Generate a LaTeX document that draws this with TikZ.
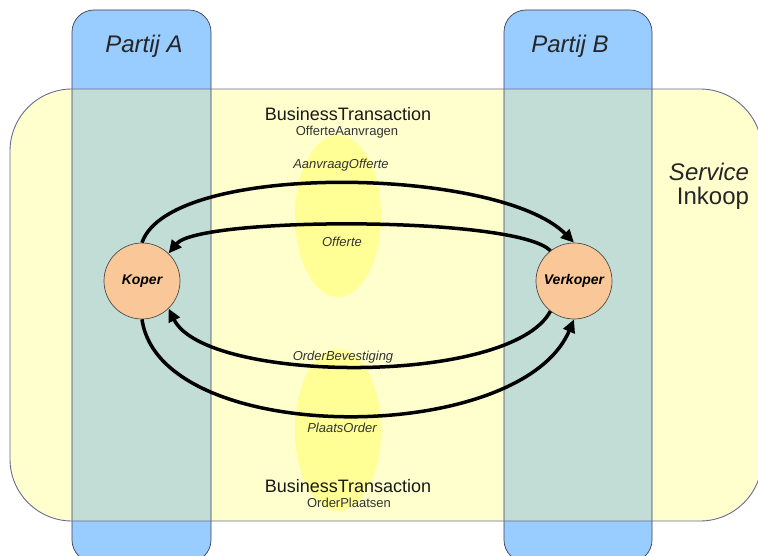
\documentclass[tikz,border=0pt]{standalone}
\usepackage{fontspec}
\setmainfont{Liberation Sans}
\usetikzlibrary{arrows.meta,shapes.geometric}

\definecolor{kolblauw}{RGB}{153,204,255}
\definecolor{svcgeel}{RGB}{255,255,206}
\definecolor{overlap}{RGB}{193,221,213}
\definecolor{btgeel}{RGB}{255,255,150}
\definecolor{rolkleur}{RGB}{250,200,152}
\definecolor{randkleur}{RGB}{105,105,150}
\definecolor{kolrand}{RGB}{60,60,85}
\pgfdeclareradialshading{zachtgeel}{\pgfpoint{0bp}{0bp}}{color(0bp)=(btgeel); color(39bp)=(btgeel); color(50bp)=(svcgeel)}

\tikzset{
	rol/.style={circle, draw=black!70, line width=0.7pt, fill=rolkleur, minimum size=76pt, inner sep=0pt, font=\fontsize{14}{16}\selectfont\bfseries\itshape},
	bericht/.style={line width=3.5pt, -{Triangle[length=13pt,width=12pt]}},
	partij/.style={font=\fontsize{24}{28}\selectfont\itshape, text=black!85},
	bttitel/.style={font=\fontsize{18}{20}\selectfont, text=black!90},
	btnaam/.style={font=\fontsize{13}{15}\selectfont, text=black!80},
	berichtnaam/.style={font=\fontsize{13}{15}\selectfont\itshape, text=black!80}
}

\begin{document}
\begin{tikzpicture}[x=1pt,y=-1pt]
	\useasboundingbox (0,0) rectangle (758,556);

	\fill[svcgeel] (10,89) [rounded corners=62pt] rectangle (762,521);
	\foreach \l/\r in {72/211,504/652}{
		\fill[kolblauw] (\l,10) [rounded corners=22pt] rectangle (\r,562);
	}
	\begin{scope}
		\clip (10,89) [rounded corners=62pt] rectangle (762,521);
		\foreach \l/\r in {72/211,504/652}{
			\fill[overlap] (\l,0) rectangle (\r,560);
		}
	\end{scope}

	\shade[shading=zachtgeel] (338,216) ellipse [x radius=43, y radius=81];
	\shade[shading=zachtgeel] (338,430) ellipse [x radius=43, y radius=81];

	\foreach \l/\r in {72/211,504/652}{
		\draw[kolrand, line width=0.7pt] (\l,10) [rounded corners=22pt] rectangle (\r,562);
	}
	\draw[randkleur, line width=0.9pt] (10,89) [rounded corners=62pt] rectangle (762,521);

	\node[partij] (partijA) at (144,46) {Partij A};
	\node[partij] (partijB) at (570,46) {Partij B};
	\node[font=\fontsize{24}{28}\selectfont\itshape, text=black!85] (service) at (709,172) {Service};
	\node[font=\fontsize{24}{28}\selectfont, text=black!85] (inkoop) at (713,198) {Inkoop};

	\node[rol] (koper) at (142,281) {Koper};
	\node[rol] (verkoper) at (574,281) {Verkoper};

	\node[bttitel] (btOfferte) at (348,114) {BusinessTransaction};
	\node[btnaam] (btOfferteNaam) at (347,132) {OfferteAanvragen};
	\node[bttitel] (btOrder) at (348,486) {BusinessTransaction};
	\node[btnaam] (btOrderNaam) at (349,503) {OrderPlaatsen};

	\node[berichtnaam] (lblAanvraag) at (341,165) {AanvraagOfferte};
	\node[berichtnaam] (lblOfferte) at (342,242) {Offerte};
	\node[berichtnaam] (lblBevestiging) at (343,357) {OrderBevestiging};
	\node[berichtnaam] (lblPlaats) at (342,428) {PlaatsOrder};

	\draw[bericht] (koper.north) .. controls +(28,-82) and +(-75,-76) .. (verkoper.north);
	\draw[bericht] (verkoper.128) .. controls +(-33,-35) and +(30,-37) .. (koper.46);
	\draw[bericht] (verkoper.232) .. controls +(-40,75) and +(37,75) .. (koper.314);
	\draw[bericht] (koper.south) .. controls +(18,128) and +(-54,128) .. (verkoper.south);
\end{tikzpicture}
\end{document}
